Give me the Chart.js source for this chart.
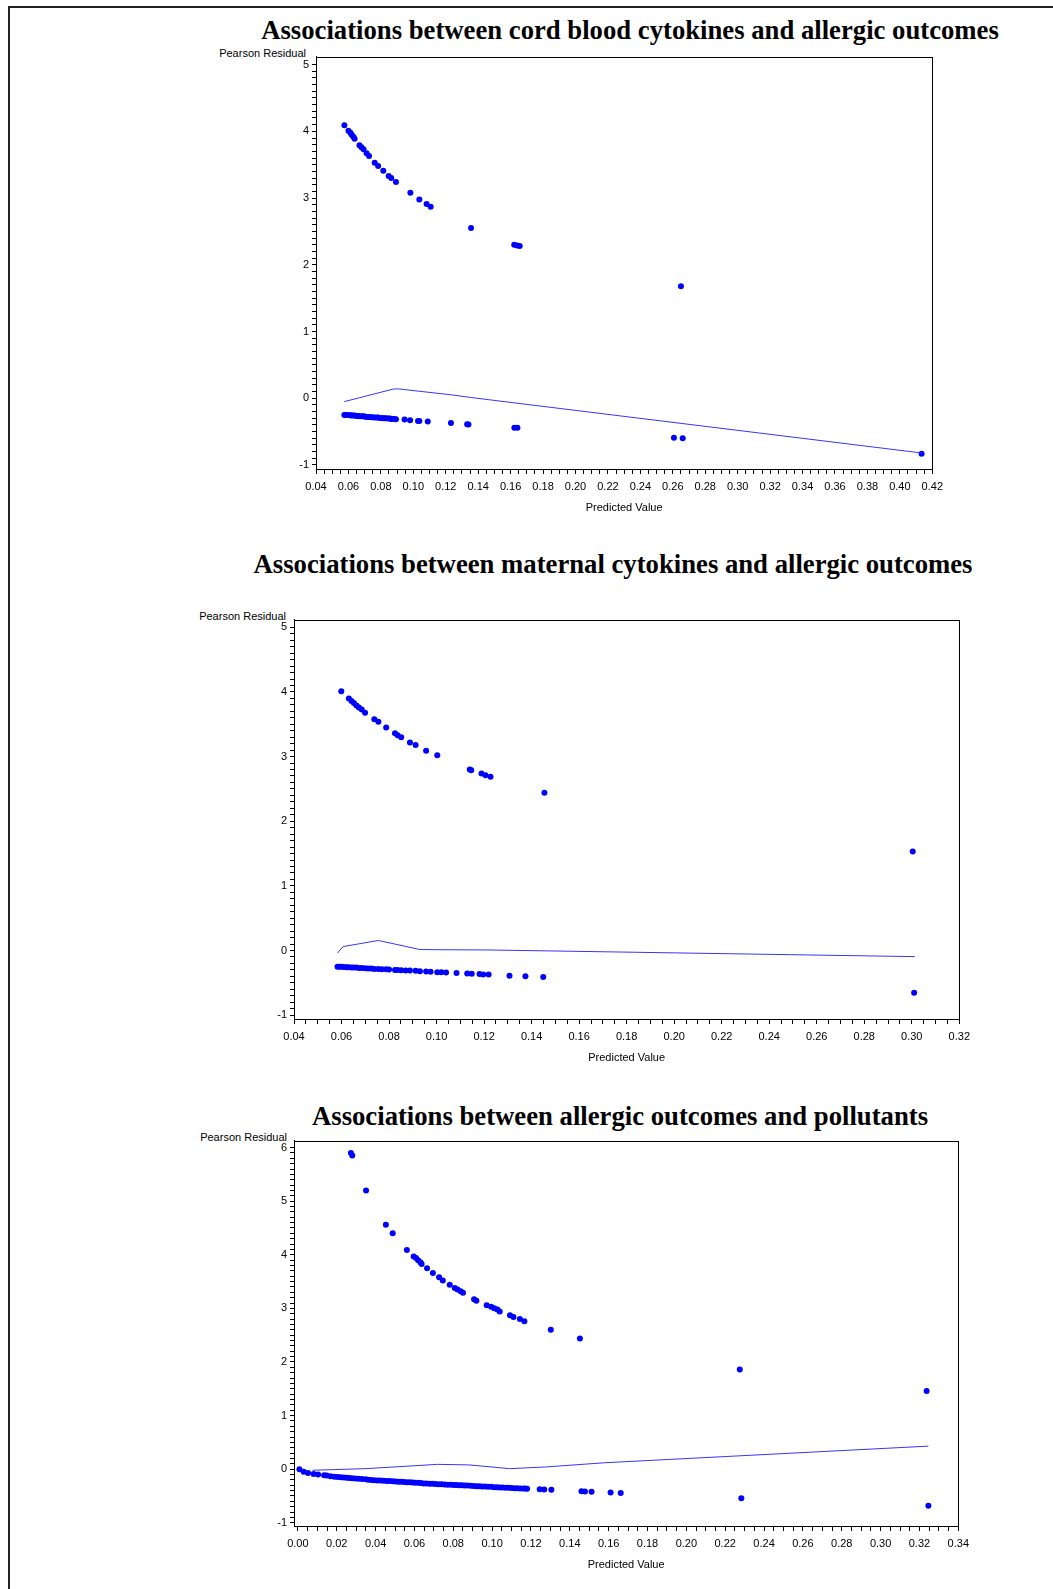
<!DOCTYPE html>
<html>
<head>
<meta charset="utf-8">
<title>Pearson residual plots</title>
<script src="https://cdn.jsdelivr.net/npm/chart.js@4.4.1/dist/chart.umd.min.js"></script>
<style>
  html, body { margin: 0; padding: 0; background: #fff; }
  body { width: 1053px; height: 1589px; position: relative; overflow: hidden; }
  .page { position: absolute; left: 8px; top: 6px; width: 1100px; height: 1600px; border-left: 2px solid #222; border-top: 2px solid #222; }
  .title { position: absolute; font-family: 'Liberation Serif', 'Times New Roman', serif; font-weight: bold; font-size: 26.7px; line-height: 30px; white-space: nowrap; transform: translateX(-50%); color: #000; }
  .ylab { position: absolute; font-family: 'Liberation Sans', Arial, sans-serif; font-size: 11px; line-height: 12px; white-space: nowrap; transform: translateX(-100%); color: #000; }
  canvas { position: absolute; }
</style>
</head>
<body>
<div class="page"></div>

<div class="title" style="left:630px; top:15px;">Associations between cord blood cytokines and allergic outcomes</div>
<div class="ylab" style="left:306px; top:47px;">Pearson Residual</div>
<canvas id="cordChart" width="663" height="468" style="left:286px; top:47px;"></canvas>

<div class="title" style="left:613px; top:549px;">Associations between maternal cytokines and allergic outcomes</div>
<div class="ylab" style="left:286px; top:610px;">Pearson Residual</div>
<canvas id="matChart" width="712" height="455" style="left:264px; top:610px;"></canvas>

<div class="title" style="left:620px; top:1101px;">Associations between allergic outcomes and pollutants</div>
<div class="ylab" style="left:287px; top:1131px;">Pearson Residual</div>
<canvas id="polChart" width="711" height="441" style="left:264px; top:1131px;"></canvas>

<script>
// Cord blood cytokines
const cordXTicks = [0.04,0.06,0.08,0.10,0.12,0.14,0.16,0.18,0.20,0.22,0.24,0.26,0.28,0.30,0.32,0.34,0.36,0.38,0.40,0.42];
const cordYTicks = [-1,0,1,2,3,4,5];
const cordPredHigh = [0.0575,0.0600,0.0612,0.0620,0.0630,0.0638,0.0668,0.0680,0.0693,0.0712,0.0727,0.0762,0.0783,0.0815,0.0848,0.0864,0.0893,0.0982,0.1037,0.1082,0.1107,0.1356,0.1622,0.1640,0.1656,0.2650];
const cordResidHigh = [4.09,4.01,3.98,3.95,3.92,3.89,3.79,3.76,3.73,3.67,3.63,3.53,3.48,3.41,3.33,3.30,3.24,3.08,2.98,2.91,2.87,2.55,2.30,2.29,2.28,1.68];
const cordPredLow = [0.0575,0.0585,0.0600,0.0612,0.0620,0.0630,0.0638,0.0650,0.0660,0.0668,0.0680,0.0693,0.0700,0.0712,0.0727,0.0740,0.0750,0.0762,0.0775,0.0783,0.0795,0.0805,0.0815,0.0825,0.0835,0.0848,0.0856,0.0864,0.0875,0.0884,0.0893,0.0946,0.0980,0.1029,0.1037,0.1089,0.1232,0.1332,0.1340,0.1623,0.1642,0.2607,0.2661,0.4134];
const cordResidLow = [-0.25,-0.25,-0.25,-0.255,-0.26,-0.26,-0.26,-0.265,-0.265,-0.27,-0.27,-0.27,-0.275,-0.28,-0.28,-0.285,-0.285,-0.29,-0.29,-0.29,-0.295,-0.295,-0.30,-0.30,-0.30,-0.305,-0.305,-0.31,-0.31,-0.31,-0.315,-0.32,-0.33,-0.34,-0.34,-0.35,-0.37,-0.39,-0.395,-0.44,-0.44,-0.59,-0.60,-0.83];
const cordSmoothX = [0.0575,0.0880,0.0910,0.1240,0.1360,0.4134];
const cordSmoothY = [-0.05,0.14,0.14,0.05,0.01,-0.82];

// Maternal cytokines
const matXTicks = [0.04,0.06,0.08,0.10,0.12,0.14,0.16,0.18,0.20,0.22,0.24,0.26,0.28,0.30,0.32];
const matYTicks = [-1,0,1,2,3,4,5];
const matPredHigh = [0.0599,0.0631,0.0642,0.0652,0.0663,0.0673,0.0685,0.0699,0.0738,0.0755,0.0788,0.0825,0.0836,0.0851,0.0888,0.0912,0.0956,0.1003,0.1140,0.1146,0.1189,0.1206,0.1227,0.1454,0.3004];
const matResidHigh = [4.01,3.90,3.86,3.83,3.79,3.76,3.73,3.68,3.58,3.54,3.45,3.36,3.33,3.30,3.22,3.18,3.09,3.02,2.80,2.79,2.74,2.71,2.69,2.44,1.53];
const matPredLow = [0.0583,0.0590,0.0599,0.0610,0.0622,0.0631,0.0642,0.0652,0.0663,0.0673,0.0685,0.0699,0.0712,0.0725,0.0738,0.0755,0.0770,0.0788,0.0800,0.0825,0.0836,0.0851,0.0870,0.0888,0.0912,0.0930,0.0956,0.0975,0.1003,0.1020,0.1040,0.1084,0.1129,0.1148,0.1181,0.1196,0.1219,0.1307,0.1374,0.1449,0.3010];
const matResidLow = [-0.25,-0.25,-0.25,-0.255,-0.26,-0.26,-0.265,-0.265,-0.265,-0.27,-0.27,-0.275,-0.28,-0.28,-0.285,-0.285,-0.29,-0.29,-0.295,-0.30,-0.30,-0.305,-0.31,-0.31,-0.315,-0.32,-0.325,-0.33,-0.335,-0.335,-0.34,-0.35,-0.355,-0.36,-0.365,-0.37,-0.37,-0.39,-0.40,-0.41,-0.655];
const matSmoothX = [0.0583,0.0606,0.0755,0.0930,0.1010,0.1220,0.3013];
const matSmoothY = [-0.04,0.06,0.155,0.015,0.012,0.008,-0.095];

// Pollutants
const polXTicks = [0.00,0.02,0.04,0.06,0.08,0.10,0.12,0.14,0.16,0.18,0.20,0.22,0.24,0.26,0.28,0.30,0.32,0.34];
const polYTicks = [-1,0,1,2,3,4,5,6];
const polPredHigh = [0.0273,0.0280,0.0351,0.0453,0.0488,0.0561,0.0596,0.0608,0.0619,0.0631,0.0637,0.0665,0.0695,0.0727,0.0746,0.0782,0.0808,0.0822,0.0838,0.0850,0.0907,0.0919,0.0972,0.0995,0.1011,0.1027,0.1039,0.1092,0.1110,0.1143,0.1166,0.1302,0.1452,0.2275,0.3237];
const polResidHigh = [5.90,5.85,5.20,4.56,4.40,4.09,3.97,3.94,3.90,3.86,3.83,3.75,3.66,3.58,3.52,3.44,3.38,3.35,3.32,3.29,3.17,3.14,3.06,3.03,3.00,2.98,2.94,2.87,2.84,2.80,2.76,2.60,2.44,1.86,1.46];
const polPredLow = [
    0.0008,0.0030,0.0052,0.0081,0.0104,0.0135,0.0148,0.0168,0.0188,0.0205,
    0.0221,0.0237,0.0252,0.0265,0.0279,0.0295,0.0312,0.0330,0.0349,0.0362,
    0.0378,0.0393,0.0409,0.0425,0.0441,0.0457,0.0472,0.0488,0.0503,0.0517,
    0.0531,0.0546,0.0561,0.0577,0.0592,0.0605,0.0619,0.0633,0.0648,0.0663,
    0.0679,0.0693,0.0708,0.0724,0.0740,0.0755,0.0771,0.0787,0.0803,0.0816,
    0.0830,0.0844,0.0858,0.0873,0.0889,0.0904,0.0919,0.0933,0.0948,0.0963,
    0.0979,0.0995,0.1011,0.1025,0.1039,0.1054,0.1069,0.1085,0.1100,0.1115,
    0.1130,0.1145,0.1160,0.1170,0.1180,0.1245,0.1268,0.1305,0.1460,0.1478,
    0.1512,0.1610,0.1662,0.2283,0.3246];
const polResidLow = [
    0.00,-0.05,-0.07,-0.09,-0.10,-0.115,-0.12,-0.13,-0.14,-0.145,
    -0.15,-0.155,-0.16,-0.165,-0.17,-0.175,-0.18,-0.185,-0.19,-0.195,
    -0.20,-0.205,-0.21,-0.21,-0.215,-0.22,-0.22,-0.225,-0.23,-0.235,
    -0.235,-0.24,-0.245,-0.245,-0.25,-0.255,-0.255,-0.26,-0.265,-0.265,
    -0.27,-0.27,-0.275,-0.28,-0.28,-0.285,-0.29,-0.29,-0.295,-0.295,
    -0.30,-0.30,-0.305,-0.305,-0.31,-0.315,-0.32,-0.32,-0.325,-0.325,
    -0.33,-0.33,-0.335,-0.335,-0.34,-0.34,-0.345,-0.345,-0.35,-0.355,
    -0.355,-0.36,-0.36,-0.36,-0.365,-0.375,-0.38,-0.385,-0.41,-0.415,
    -0.42,-0.435,-0.445,-0.54,-0.68];
const polSmoothX = [0.0075,0.0350,0.0720,0.0880,0.1090,0.1270,0.1580,0.3246];
const polSmoothY = [-0.02,0.01,0.09,0.08,0.01,0.04,0.12,0.43];

Chart.defaults.font.family = "'Liberation Sans', Arial, sans-serif";
Chart.defaults.font.size = 11;
Chart.defaults.color = '#000';

const pairs = (xs, ys) => xs.map((x, i) => ({ x: x, y: ys[i] }));

// major ticks carry labels, minor ticks are split between them
function tickList(major, parts) {
    const out = [];
    for (let i = 0; i < major.length - 1; i++) {
        for (let k = 0; k < parts; k++) {
            out.push({ value: major[i] + (major[i + 1] - major[i]) * k / parts });
        }
    }
    out.push({ value: major[major.length - 1] });
    return out;
}
const isMajor = (major, v) => major.some(m => Math.abs(m - v) < 1e-7);

// box round the plot area
const framePlugin = {
    id: 'frame',
    afterDraw(chart) {
        const a = chart.chartArea, ctx = chart.ctx;
        ctx.save();
        ctx.strokeStyle = '#000';
        ctx.lineWidth = 1;
        ctx.strokeRect(Math.round(a.left) + 0.5, Math.round(a.top) + 0.5, Math.round(a.right - a.left), Math.round(a.bottom - a.top));
        ctx.restore();
    }
};

function residualChart(id, o) {
    new Chart(document.getElementById(id), {
        type: 'scatter',
        data: {
            datasets: [
                {
                    data: pairs(o.smoothX, o.smoothY),
                    showLine: true,
                    borderColor: '#3535ff',
                    borderWidth: 1,
                    pointRadius: 0,
                    tension: 0
                },
                {
                    data: pairs(o.predHigh, o.residHigh).concat(pairs(o.predLow, o.residLow)),
                    pointRadius: 3,
                    pointBackgroundColor: '#0000ff',
                    pointBorderWidth: 0
                }
            ]
        },
        options: {
            responsive: false,
            animation: false,
            layout: { padding: { top: 8, right: 16, left: 0, bottom: 0 } },
            plugins: { legend: { display: false }, tooltip: { enabled: false } },
            scales: {
                x: {
                    type: 'linear',
                    min: o.xMin,
                    max: o.xMax,
                    afterBuildTicks: axis => { axis.ticks = tickList(o.xTicks, 4); },
                    afterFit: axis => { axis.height = 46; },
                    grid: { display: true, drawOnChartArea: false, tickLength: 5, color: '#000', tickColor: '#000' },
                    border: { display: true, color: '#000' },
                    ticks: {
                        autoSkip: false,
                        maxRotation: 0,
                        minRotation: 0,
                        padding: 6,
                        callback: v => isMajor(o.xTicks, v) ? v.toFixed(2) : ''
                    },
                    title: { display: true, text: 'Predicted Value', padding: { top: 9, bottom: 0 } }
                },
                y: {
                    type: 'linear',
                    min: o.yMin,
                    max: o.yMax,
                    afterBuildTicks: axis => { axis.ticks = tickList(o.yTicks, 10); },
                    afterFit: axis => { axis.width = 30; },
                    grid: { display: true, drawOnChartArea: false, tickLength: 4, color: '#000', tickColor: '#000' },
                    border: { display: true, color: '#000' },
                    ticks: {
                        autoSkip: false,
                        padding: 3,
                        callback: v => isMajor(o.yTicks, v) ? String(Math.round(v)) : ''
                    }
                }
            }
        },
        plugins: [framePlugin]
    });
}

residualChart('cordChart', {
    xMin: 0.04, xMax: 0.42, yMin: -1.06, yMax: 5.12,
    xTicks: cordXTicks, yTicks: cordYTicks,
    predHigh: cordPredHigh, residHigh: cordResidHigh,
    predLow: cordPredLow, residLow: cordResidLow,
    smoothX: cordSmoothX, smoothY: cordSmoothY
});

residualChart('matChart', {
    xMin: 0.04, xMax: 0.32, yMin: -1.06, yMax: 5.12,
    xTicks: matXTicks, yTicks: matYTicks,
    predHigh: matPredHigh, residHigh: matResidHigh,
    predLow: matPredLow, residLow: matResidLow,
    smoothX: matSmoothX, smoothY: matSmoothY
});

residualChart('polChart', {
    xMin: -0.002, xMax: 0.34, yMin: -1.06, yMax: 6.13,
    xTicks: polXTicks, yTicks: polYTicks,
    predHigh: polPredHigh, residHigh: polResidHigh,
    predLow: polPredLow, residLow: polResidLow,
    smoothX: polSmoothX, smoothY: polSmoothY
});
</script>
</body>
</html>
